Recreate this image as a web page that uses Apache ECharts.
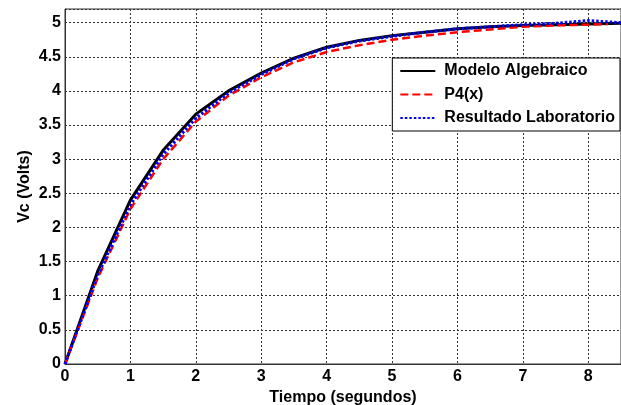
<!DOCTYPE html>
<html>
<head>
<meta charset="utf-8">
<script src="https://cdn.jsdelivr.net/npm/echarts@6/dist/echarts.min.js"></script>
<style>html,body{margin:0;padding:0;background:#fff;}#c{width:621px;height:405px;}</style>
</head>
<body>
<div id="c"></div>
<script>
const tiempo = [0,0.5,1,1.5,2,2.5,3,3.5,4,4.5,5,5.5,6,6.5,7,7.5,8,8.5];
const modelo = [0,1.36,2.4,3.13,3.66,4.0,4.26,4.48,4.64,4.74,4.81,4.86,4.91,4.94,4.96,4.97,4.98,4.99];
const tiempoP4 = [0,0.5,1,1.5,2,2.5,3,3.5,4,4.5,5,5.5,6,6.5,7,7.5,8,8.3];
const p4 = [0,1.26,2.27,3.0,3.55,3.93,4.2,4.42,4.57,4.67,4.75,4.81,4.86,4.9,4.94,4.96,4.97,4.98];
const lab = [0,1.3,2.33,3.07,3.6,3.97,4.24,4.47,4.63,4.73,4.8,4.86,4.91,4.94,4.97,4.99,5.03,5.0];
const names = ['Modelo Algebraico','P4(x)','Resultado Laboratorio'];

const pair = (xs, ys) => xs.map((x,i)=>[x, ys[i]]);
const font = 'Liberation Sans, Arial, sans-serif';
const chart = echarts.init(document.getElementById('c'));
chart.setOption({
  animation:false,
  backgroundColor:'#fff',
  grid:{left:65,right:0,top:9,bottom:41,show:true,borderColor:'#333',borderWidth:1,
    containLabel:false,outerBoundsMode:'none'},
  xAxis:{type:'value',min:0,max:8.5,interval:1,
    name:'Tiempo (segundos)',nameLocation:'middle',nameGap:24,
    nameTextStyle:{fontFamily:font,fontWeight:'bold',fontSize:16,color:'#000'},
    axisLine:{lineStyle:{color:'#333',width:1}},axisTick:{show:false},
    axisLabel:{fontFamily:font,fontWeight:'bold',fontSize:16,color:'#000',margin:5,showMaxLabel:false},
    splitLine:{lineStyle:{color:'#333',type:[2,2],width:1}}},
  yAxis:{type:'value',min:0,max:5.2,interval:0.5,
    name:'Vc (Volts)',nameLocation:'middle',nameGap:32,nameMoveOverlap:false,
    nameTextStyle:{fontFamily:font,fontWeight:'bold',fontSize:16,color:'#000'},
    axisLine:{show:true,lineStyle:{color:'#333',width:1}},axisTick:{show:false},
    axisLabel:{fontFamily:font,fontWeight:'bold',fontSize:16,color:'#000',margin:4,showMaxLabel:false},
    splitLine:{lineStyle:{color:'#333',type:[2,2],width:1}}},
  legend:{orient:'vertical',right:1,top:58,itemWidth:35,itemHeight:14,itemGap:7.5,
    backgroundColor:'#fff',borderColor:'#000',borderWidth:1,borderRadius:0,padding:[5,5,5,7],
    itemStyle:{color:'rgba(0,0,0,0)',borderWidth:0,opacity:0},
    textStyle:{fontFamily:font,fontWeight:'bold',fontSize:16,color:'#000',padding:[0,0,0,4]},
    data:names},
  series:[
    {name:names[0],type:'line',data:pair(tiempo,modelo),symbol:'none',color:'#000',
      lineStyle:{color:'#000',width:3,type:'solid'}},
    {name:names[1],type:'line',data:pair(tiempoP4,p4),symbol:'none',color:'#ff0000',
      lineStyle:{color:'#ff0000',width:2.5,type:[8,4]}},
    {name:names[2],type:'line',data:pair(tiempo,lab),symbol:'none',color:'#0000ff',
      lineStyle:{color:'#0000ff',width:3,type:[2.5,2]}}
  ]
});
</script>
</body>
</html>
